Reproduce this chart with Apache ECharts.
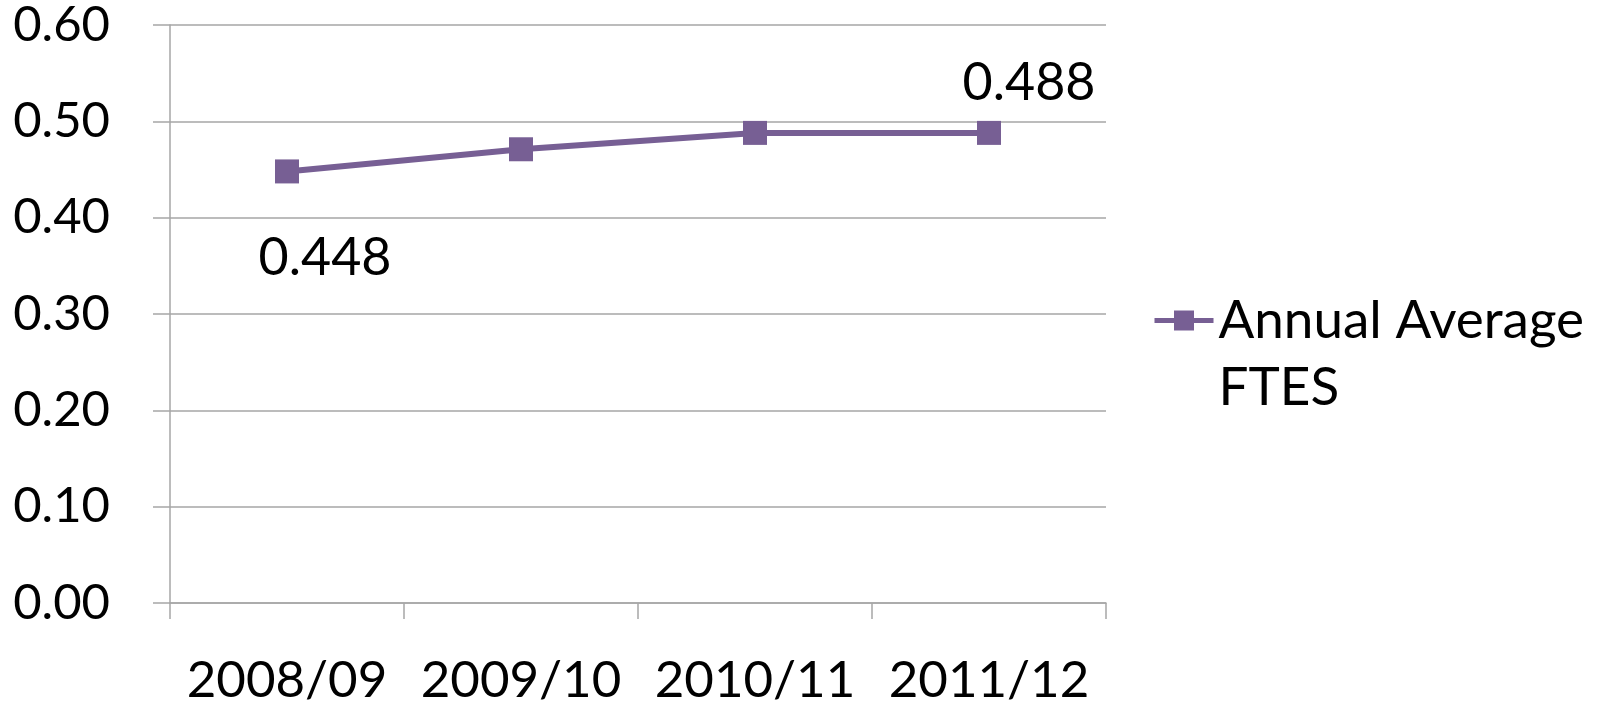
<!DOCTYPE html>
<html>
<head>
<meta charset="utf-8">
<script src="https://cdn.jsdelivr.net/npm/echarts@6/dist/echarts.min.js"></script>
<style>
html,body{margin:0;padding:0;background:#fff;}
#chart{width:1602px;height:708px;}
</style>
</head>
<body>
<div id="chart"></div>
<script>
const categories = ['2008/09', '2009/10', '2010/11', '2011/12'];
const seriesName = 'Annual Average FTES';
const legendLines = ['Annual Average', 'FTES'];
const values = [0.448, 0.471, 0.488, 0.488];
const labeledIndices = [0, 3];

const FONT = 'Lato';
const COLOR = '#775F94';
const GRID = '#A6A6A6';

const labelOffsets = { 0: [38, 87], 3: [40, -50] };

const data = values.map((v, i) => {
  const item = { value: v };
  if (labeledIndices.includes(i)) {
    item.label = {
      show: true,
      position: 'inside',
      offset: labelOffsets[i],
      formatter: (p) => p.value.toFixed(3),
      color: '#000',
      fontFamily: FONT,
      fontSize: 52
    };
  }
  return item;
});

const chart = echarts.init(document.getElementById('chart'), null, { renderer: 'canvas' });
chart.setOption({
  animation: false,
  backgroundColor: '#fff',
  grid: { left: 170, right: 496, top: 25, bottom: 105, containLabel: false },
  legend: {
    data: [seriesName],
    orient: 'vertical',
    left: 1152,
    top: 220,
    padding: 0,
    itemWidth: 59,
    itemHeight: 25,
    itemGap: 0,
    formatter: () => '\n' + legendLines.join('\n'),
    lineStyle: { width: 5 },
    textStyle: {
      fontFamily: FONT,
      fontSize: 53,
      color: '#000',
      lineHeight: 67
    }
  },
  xAxis: {
    type: 'category',
    data: categories,
    boundaryGap: true,
    axisLine: { show: true, lineStyle: { color: GRID, width: 1.5 } },
    axisTick: { show: true, length: 16, alignWithLabel: false, lineStyle: { color: GRID, width: 1.5 } },
    axisLabel: { interval: 0, hideOverlap: false, margin: 52, color: '#000', fontFamily: FONT, fontSize: 51 },
    splitLine: { show: false }
  },
  yAxis: {
    type: 'value',
    min: 0,
    max: 0.6,
    interval: 0.1,
    axisLine: { show: true, lineStyle: { color: GRID, width: 1.5 } },
    axisTick: { show: true, length: 17, lineStyle: { color: GRID, width: 1.5 } },
    axisLabel: {
      margin: 60,
      color: '#000',
      fontFamily: FONT,
      fontSize: 49,
      formatter: (v) => v.toFixed(2)
    },
    splitLine: { show: true, lineStyle: { color: GRID, width: 1.5 } }
  },
  series: [{
    name: seriesName,
    type: 'line',
    data: data,
    symbol: 'rect',
    symbolSize: 24,
    itemStyle: { color: COLOR },
    lineStyle: { color: COLOR, width: 6 },
    label: { show: false }
  }]
});
</script>
</body>
</html>
